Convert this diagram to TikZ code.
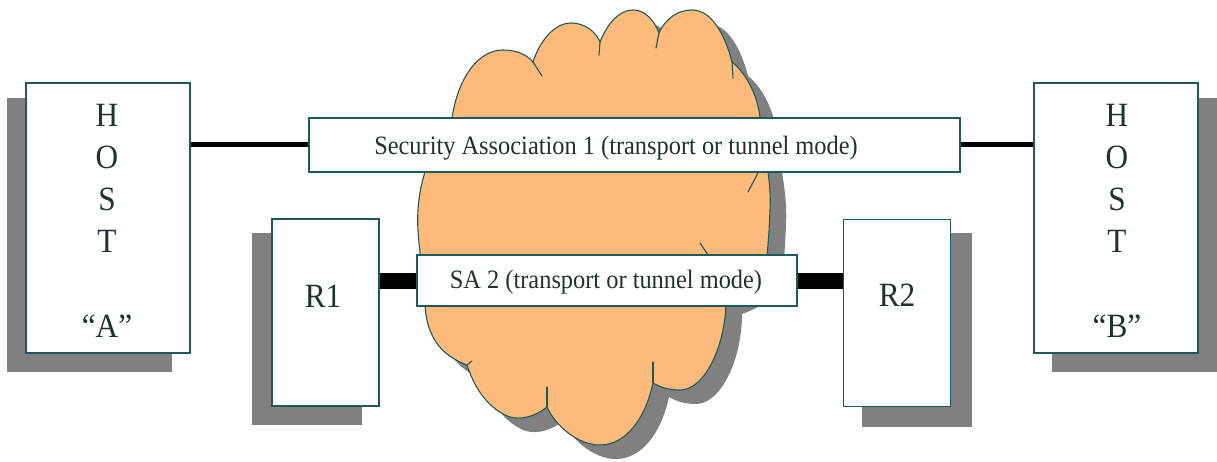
\documentclass[tikz,border=0pt]{standalone}
\usepackage{fontspec}
\setmainfont{Liberation Serif}[FakeStretch=0.92]

\definecolor{cloudfill}{RGB}{253,186,122}
\definecolor{shadowgray}{RGB}{128,128,128}
\definecolor{edge}{RGB}{30,90,88}
\definecolor{ink}{RGB}{30,50,50}

% outline of the network cloud (pixel-like units, y downwards)
\newcommand{\cloudoutline}{%
  (467,365) .. controls (440,355) and (425,335) .. (425,300)
  .. controls (424,270) and (416,240) .. (418,210)
  .. controls (420,175) and (435,140) .. (452,118)
  .. controls (458,78) and (478,50) .. (503,50)
  .. controls (516,50) and (526,54) .. (533,62)
  .. controls (540,40) and (555,23) .. (571,23)
  .. controls (585,23) and (596,32) .. (600,42)
  .. controls (608,22) and (620,10) .. (633,10)
  .. controls (645,10) and (654,20) .. (659,33)
  .. controls (666,18) and (678,10) .. (692,10)
  .. controls (712,10) and (725,35) .. (732,62)
  .. controls (745,72) and (758,95) .. (760,118)
  .. controls (762,140) and (772,180) .. (770,210)
  .. controls (769,235) and (768,250) .. (765,270)
  .. controls (760,285) and (740,295) .. (726,300)
  .. controls (726,345) and (705,390) .. (680,390)
  .. controls (668,390) and (660,387) .. (653,383)
  .. controls (645,420) and (625,445) .. (600,445)
  .. controls (577,445) and (555,425) .. (547,407)
  .. controls (535,417) and (520,420) .. (510,417)
  .. controls (490,410) and (475,390) .. (467,365) -- cycle}

\tikzset{
  hostbox/.style={rectangle, draw=edge, line width=1.2pt, fill=white,
    minimum width=164pt, minimum height=270pt, inner sep=0pt},
  routerbox/.style={rectangle, draw=edge, line width=1.2pt, fill=white,
    minimum width=107pt, minimum height=187pt, inner sep=0pt},
  sabox/.style={rectangle, draw=edge, line width=1.2pt, fill=white, inner sep=0pt},
  shadowbox/.style={rectangle, fill=shadowgray, draw=none, inner sep=0pt},
  biglbl/.style={text=ink, anchor=base, inner sep=0pt,
    font=\fontsize{34}{40}\selectfont},
  salbl/.style={text=ink, anchor=base, inner sep=0pt,
    font=\fontsize{26.5}{30}\selectfont},
  thinlink/.style={line width=5pt, black},
  thicklink/.style={line width=16pt, black},
  cloudedge/.style={draw=edge, line width=1.1pt},
  tick/.style={draw=edge, line width=1.1pt, line cap=round}
}

\begin{document}
\begin{tikzpicture}[x=1pt, y=-1pt]
\useasboundingbox (0,0) rectangle (1217,462);
\fill[white] (0,0) rectangle (1217,462);

% cloud with its drop shadow
\begin{scope}[shift={(16,14)}]
  \path[fill=shadowgray] \cloudoutline;
\end{scope}
\path[fill=cloudfill, cloudedge] \cloudoutline;
% inner folds of the cloud
\draw[tick] (533,62) -- (542,76);
\draw[tick] (600,42) -- (599,55);
\draw[tick] (659,33) -- (656,48);
\draw[tick] (732,62) -- (733,78);
\draw[tick] (758,173) -- (748,192);
\draw[tick] (700,243) -- (708,255);
\draw[tick] (653,383) -- (653,362);
\draw[tick] (547,407) -- (547,387);
\draw[tick] (467,365) -- (472,361);

% box shadows
\node[shadowbox, minimum width=165pt, minimum height=274pt] (hAs) at (89.5,235) {};
\node[shadowbox, minimum width=165pt, minimum height=274pt] (hBs) at (1134.5,235) {};
\node[shadowbox, minimum width=110pt, minimum height=192pt] (r1s) at (307,329) {};
\node[shadowbox, minimum width=110pt, minimum height=194pt] (r2s) at (917,330) {};

% hosts, routers and security associations
\node[hostbox] (hA) at (108,218) {};
\node[hostbox] (hB) at (1116,218) {};
\node[routerbox] (r1) at (325.5,312.5) {};
\node[routerbox] (r2) at (897,313) {};
\node[sabox, minimum width=651pt, minimum height=54pt] (sa1) at (634.5,145) {};
\node[sabox, minimum width=380pt, minimum height=51pt] (sa2) at (607,280.5) {};

% links
\draw[thinlink] (hA.east |- sa1.west) -- (sa1.west);
\draw[thinlink] (sa1.east) -- (hB.west |- sa1.east);
\draw[thicklink] (r1.east |- sa2.west) -- (sa2.west);
\draw[thicklink] (sa2.east) -- (r2.west |- sa2.east);

% labels
\foreach \ch [count=\i] in {H,O,S,T}{
  \pgfmathsetmacro{\yb}{127+41.7*(\i-1)}
  \node[biglbl] (hAt\i) at (107,\yb) {\ch};
  \node[biglbl] (hBt\i) at (1117,\yb) {\ch};
}
\node[biglbl] (hAn) at (107,337) {“A”};
\node[biglbl] (hBn) at (1117,337) {“B”};
\node[biglbl] (r1t) at (323,307) {R1};
\node[biglbl] (r2t) at (897,306) {R2};
\node[salbl] (sa1t) at (616,155) {Security Association 1 (transport or tunnel mode)};
\node[salbl] (sa2t) at (606,288) {SA 2 (transport or tunnel mode)};
\end{tikzpicture}
\end{document}
